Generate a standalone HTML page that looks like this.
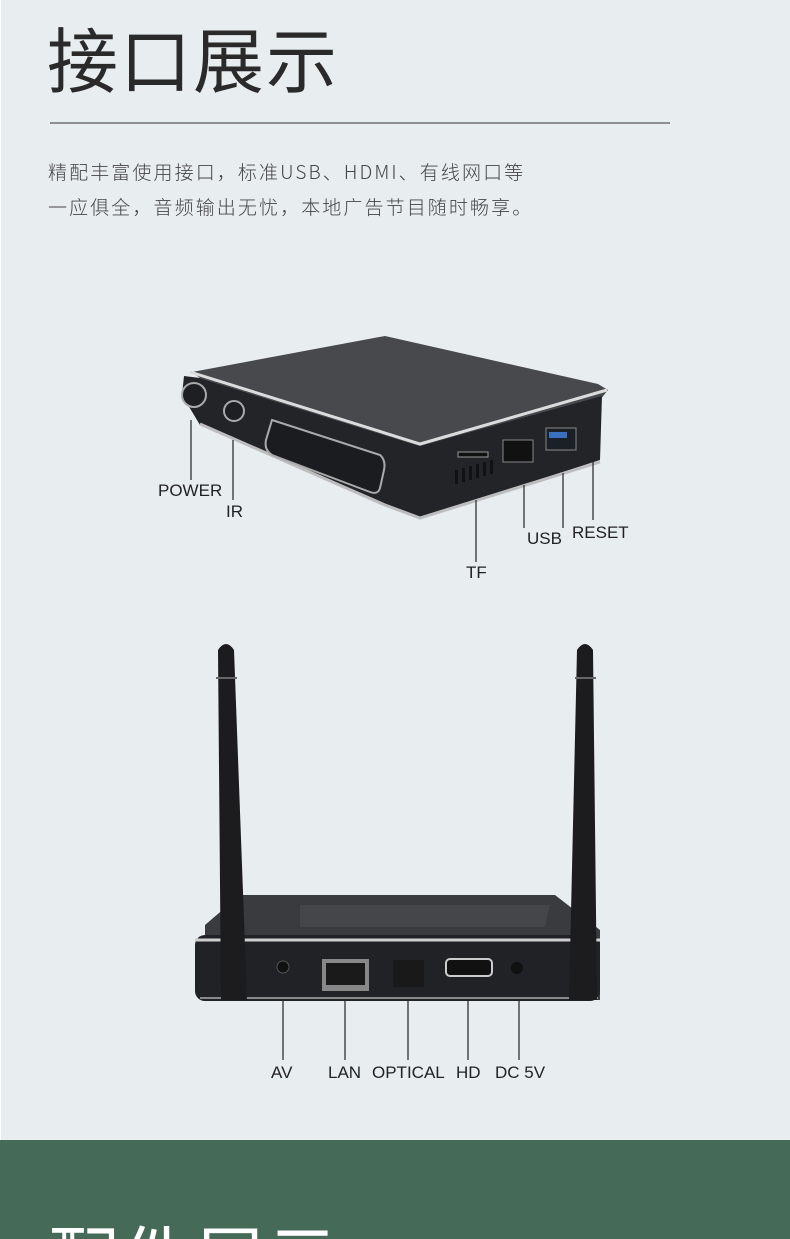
<!DOCTYPE html>
<html><head><meta charset="utf-8"><style>
html,body{margin:0;padding:0;width:790px;height:1239px;overflow:hidden}
body{position:relative;background:#e8edf0;font-family:"Liberation Sans","Noto Sans CJK SC",sans-serif}
.t{position:absolute;left:47px;top:12px;font-size:71px;color:#2a2a2a;font-family:"Noto Sans CJK SC",sans-serif;font-weight:400;letter-spacing:2px;line-height:90px}
.hr{position:absolute;left:50px;top:122px;width:620px;height:2px;background:#8e8e8e}
.p{position:absolute;left:48px;top:154px;font-size:19px;letter-spacing:2.1px;color:#444;line-height:35px;font-family:"Noto Sans CJK SC",sans-serif;font-weight:300;white-space:nowrap}
.green{position:absolute;left:0;top:1140px;width:790px;height:99px;background:#456b58}
.g2{position:absolute;left:48px;top:1210px;font-size:71px;color:#fff;font-family:"Noto Sans CJK SC",sans-serif;line-height:90px;letter-spacing:2px}
.l{position:absolute;font-size:17px;color:#222;font-family:"Liberation Sans",sans-serif}
</style></head><body>
<div style="position:absolute;left:0;top:0;width:1px;height:1140px;background:#fff"></div>
<div class="t">接口展示</div>
<div class="hr"></div>
<div class="p">精配丰富使用接口，标准USB、HDMI、有线网口等<br>一应俱全，音频输出无忧，本地广告节目随时畅享。</div>

<svg style="position:absolute;left:0;top:0" width="790" height="1140">
<!-- top device -->
<polygon points="192,372 385,336 598,384 608,390 600,400 420,446 200,378" fill="#48494d"/>
<polygon points="200,378 420,446 602,396 600,460 420,518 385,505 200,425 182,395 184,376" fill="#222428"/>
<path d="M190,372 L420,444 L607,390" stroke="#dcdcdc" stroke-width="3" fill="none"/>
<path d="M200,424 L385,505 L420,518 L600,462" stroke="#bdbdbd" stroke-width="3" fill="none"/>
<circle cx="194" cy="395" r="12" fill="#1d1f22" stroke="#aaa" stroke-width="2"/>
<circle cx="234" cy="411" r="10" fill="#1d1f22" stroke="#aaa" stroke-width="2"/>
<path d="M272,420 L380,455 Q386,460 384,470 L380,488 Q378,495 370,492 L272,455 Q264,450 266,440 Z" fill="#1a1c1f" stroke="#aaa" stroke-width="2"/>
<rect x="458" y="452" width="30" height="5" fill="#111" stroke="#999"/>
<rect x="503" y="440" width="30" height="22" fill="#111" stroke="#888"/>
<rect x="546" y="428" width="30" height="22" fill="#1b1f26" stroke="#888"/>
<rect x="549" y="432" width="18" height="6" fill="#3a70c0"/>
<g fill="#111"><rect x="455" y="470" width="3" height="14"/><rect x="462" y="468" width="3" height="14"/><rect x="469" y="466" width="3" height="14"/><rect x="476" y="464" width="3" height="14"/><rect x="483" y="462" width="3" height="14"/><rect x="490" y="460" width="3" height="14"/></g>
<g stroke="#222" stroke-width="1.2">
<line x1="191" y1="420" x2="191" y2="480"/><line x1="233" y1="440" x2="233" y2="500"/>
<line x1="476" y1="500" x2="476" y2="562"/><line x1="524" y1="485" x2="524" y2="528"/>
<line x1="563" y1="473" x2="563" y2="528"/><line x1="593" y1="462" x2="593" y2="520"/>
</g>
<!-- bottom device -->
<polygon points="205,925 240,895 555,895 600,930 600,1000 205,1000" fill="#393b3f"/>
<polygon points="300,905 550,905 545,927 300,927" fill="#444649"/>
<rect x="195" y="935" width="405" height="66" rx="10" fill="#202225"/>
<path d="M195,940 L600,940" stroke="#cfcfcf" stroke-width="3"/>
<path d="M200,998 L598,998" stroke="#888" stroke-width="2"/>
<circle cx="283" cy="967" r="6" fill="#111" stroke="#555"/>
<rect x="322" y="959" width="47" height="32" fill="#888"/><rect x="326" y="963" width="39" height="22" fill="#1a1a1a"/>
<rect x="393" y="960" width="31" height="27" fill="#191919"/>
<rect x="446" y="959" width="46" height="17" rx="4" fill="#111" stroke="#ccc" stroke-width="2"/>
<circle cx="517" cy="968" r="6" fill="#111"/>
<!-- antennas -->
<path d="M218,650 Q226,638 234,650 L247,1000 L221,1000 Z" fill="#1c1c1e"/>
<path d="M577,650 Q585,638 593,650 L597,1000 L569,1000 Z" fill="#1c1c1e"/>
<line x1="216" y1="678" x2="237" y2="678" stroke="#666" stroke-width="2"/>
<line x1="575" y1="678" x2="596" y2="678" stroke="#666" stroke-width="2"/>
<g stroke="#222" stroke-width="1.2">
<line x1="283" y1="1001" x2="283" y2="1060"/><line x1="345" y1="1001" x2="345" y2="1060"/>
<line x1="408" y1="1001" x2="408" y2="1060"/><line x1="468" y1="1001" x2="468" y2="1060"/>
<line x1="519" y1="1001" x2="519" y2="1060"/>
</g>
</svg>

<div class="l" style="left:158px;top:481px">POWER</div>
<div class="l" style="left:226px;top:502px">IR</div>
<div class="l" style="left:466px;top:563px">TF</div>
<div class="l" style="left:527px;top:529px">USB</div>
<div class="l" style="left:572px;top:523px">RESET</div>
<div class="l" style="left:271px;top:1063px">AV</div>
<div class="l" style="left:328px;top:1063px">LAN</div>
<div class="l" style="left:372px;top:1063px">OPTICAL</div>
<div class="l" style="left:456px;top:1063px">HD</div>
<div class="l" style="left:495px;top:1063px">DC 5V</div>

<div class="green"></div>
<div class="g2">配件展示</div>
</body></html>
